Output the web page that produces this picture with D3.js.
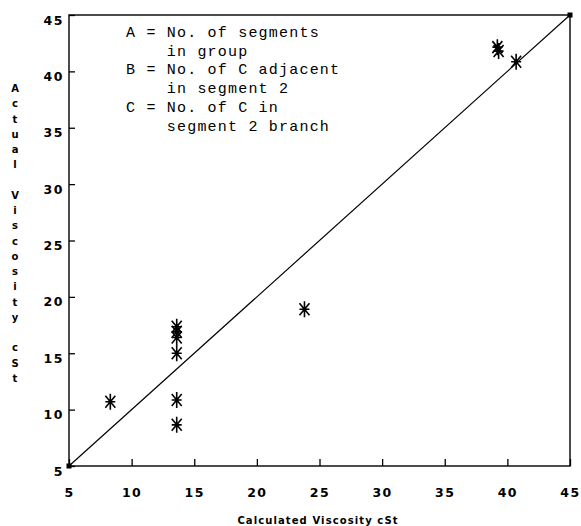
<!DOCTYPE html>
<html>
<head>
<meta charset="utf-8">
<script src="https://cdn.jsdelivr.net/npm/d3@7"></script>
<style>
  html, body { margin: 0; padding: 0; background: #fff; }
  svg { display: block; }
</style>
</head>
<body>
<svg id="chart" width="581" height="526"></svg>
<script>
// ---- data ----
const xTicks = [5, 10, 15, 20, 25, 30, 35, 40, 45];
const yTicks = [5, 10, 15, 20, 25, 30, 35, 40, 45];
const calcVisc = [8.3, 13.6, 13.6, 13.6, 13.6, 13.6, 13.6, 23.8, 39.2, 39.3, 40.7];
const actualVisc = [10.7, 8.65, 10.85, 15.0, 16.4, 16.9, 17.35, 18.9, 42.15, 41.8, 40.85];
const parityLine = [5, 45];
const legendLines = [
  "A = No. of segments",
  "    in group",
  "B = No. of C adjacent",
  "    in segment 2",
  "C = No. of C in",
  "    segment 2 branch"
];
const xTitle = "Calculated Viscosity cSt";
const yTitle = "Actual Viscosity cSt";

// ---- layout ----
const svg = d3.select("#chart");
const pLeft = 69, pRight = 570, pTop = 15, pBottom = 466;
const x = d3.scaleLinear().domain([5, 45]).range([pLeft, pRight]);
const y = d3.scaleLinear().domain([5, 45]).range([pBottom, pTop]);
const labelFont = "'DejaVu Sans', 'Liberation Sans', Arial, sans-serif";

// frame
svg.append("rect")
  .attr("x", pLeft).attr("y", pTop)
  .attr("width", pRight - pLeft).attr("height", pBottom - pTop)
  .attr("fill", "none").attr("stroke", "#000").attr("stroke-width", 1.4);

// x axis
const xAxis = svg.append("g")
  .attr("transform", `translate(0,${pBottom})`)
  .call(d3.axisBottom(x).tickValues(xTicks).tickSizeInner(-7).tickSizeOuter(0));
xAxis.select(".domain").remove();
xAxis.selectAll(".tick line").attr("stroke", "#000").attr("stroke-width", 1.3);
xAxis.selectAll(".tick text")
  .attr("y", 31).attr("dy", null)
  .attr("font-family", labelFont).attr("font-weight", "bold")
  .attr("font-size", 12.5).attr("letter-spacing", "1.5px")
  .attr("fill", "#000");

// y axis
const yAxis = svg.append("g")
  .attr("transform", `translate(${pLeft},0)`)
  .call(d3.axisLeft(y).tickValues(yTicks).tickSizeInner(-6).tickSizeOuter(0));
yAxis.select(".domain").remove();
yAxis.selectAll(".tick line").attr("stroke", "#000").attr("stroke-width", 1.3);
yAxis.selectAll(".tick text")
  .attr("x", -5).attr("dy", null).attr("y", 9)
  .attr("text-anchor", "end")
  .attr("font-family", labelFont).attr("font-weight", "bold")
  .attr("font-size", 12.5).attr("letter-spacing", "1.5px")
  .attr("fill", "#000");

// parity line
svg.append("path")
  .datum(parityLine)
  .attr("d", d3.line().x(d => x(d)).y(d => y(d)))
  .attr("fill", "none").attr("stroke", "#000").attr("stroke-width", 1.2);
svg.selectAll(".endpt")
  .data(parityLine)
  .join("rect")
  .attr("class", "endpt")
  .attr("x", d => x(d) - 2.5).attr("y", d => y(d) - 2.5)
  .attr("width", 5).attr("height", 5).attr("fill", "#000");

// star markers
const star = "M0,-8L0,8M-5,-6L5,6M-5,6L5,-6M-5,0L5,0";
const pts = calcVisc.map((v, i) => [v, actualVisc[i]]);
const g = svg.append("g");
g.selectAll("path.star")
  .data(pts)
  .join("path")
  .attr("class", "star")
  .attr("transform", d => `translate(${x(d[0])},${y(d[1])})`)
  .attr("d", star)
  .attr("fill", "none").attr("stroke", "#000").attr("stroke-width", 1.6);
g.selectAll("circle")
  .data(pts)
  .join("circle")
  .attr("cx", d => x(d[0])).attr("cy", d => y(d[1]))
  .attr("r", 2).attr("fill", "#000");

// legend text
svg.append("g").selectAll("text")
  .data(legendLines)
  .join("text")
  .attr("x", 126)
  .attr("y", (d, i) => 37 + i * 18.7)
  .attr("xml:space", "preserve")
  .style("white-space", "pre")
  .attr("font-family", "'Liberation Mono', 'DejaVu Sans Mono', monospace")
  .attr("font-size", 15).attr("letter-spacing", "1.2px")
  .attr("fill", "#000")
  .text(d => d);

// x title
svg.append("text")
  .attr("x", 318).attr("y", 524)
  .attr("text-anchor", "middle")
  .attr("font-family", labelFont).attr("font-weight", "bold")
  .attr("font-size", 10).attr("letter-spacing", "1.1px")
  .attr("fill", "#000")
  .text(xTitle);

// y title: stacked letters (a blank step for each space)
const step = 15.26;
const positions = yTitle.split("")
  .map((c, i) => ({ c, y: 92 + i * step }))
  .filter(d => d.c !== " ");
svg.append("g").selectAll("text")
  .data(positions)
  .join("text")
  .attr("x", 15).attr("y", d => d.y)
  .attr("text-anchor", "middle")
  .attr("font-family", labelFont).attr("font-weight", "bold")
  .attr("font-size", 10)
  .attr("fill", "#000")
  .text(d => d.c);
</script>
</body>
</html>
